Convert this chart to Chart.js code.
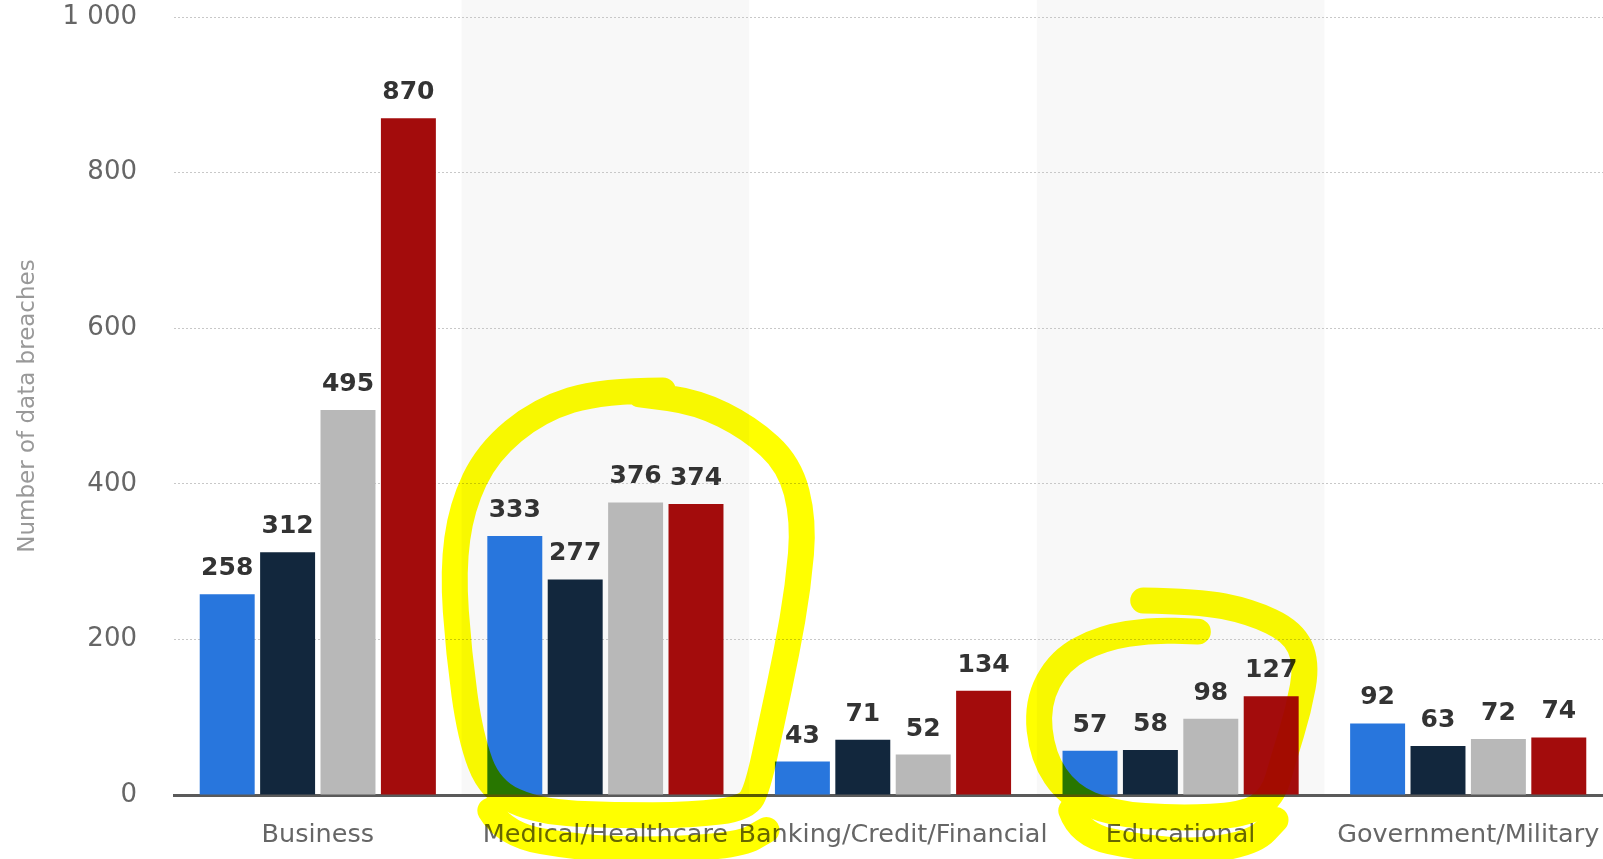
<!DOCTYPE html>
<html>
<head>
<meta charset="utf-8">
<script src="https://cdn.jsdelivr.net/npm/chart.js@4/dist/chart.umd.min.js"></script>
<style>
  html, body { margin: 0; padding: 0; background: #fff; overflow: hidden; }
  #wrap { width: 1603px; height: 859px; overflow: hidden; }
</style>
</head>
<body>
<div id="wrap"><canvas id="chart" width="1612" height="859"></canvas></div>
<script>
const categories = ['Business', 'Medical/Healthcare', 'Banking/Credit/Financial', 'Educational', 'Government/Military'];
const seriesNames = ['2014', '2015', '2016', '2017'];
const values2014 = [258, 333, 43, 57, 92];
const values2015 = [312, 277, 71, 58, 63];
const values2016 = [495, 376, 52, 98, 72];
const values2017 = [870, 374, 134, 127, 74];
const yTicks = [0, 200, 400, 600, 800, 1000];
const shadedCategories = [1, 3];

// hand-drawn highlight loops, as [category index, value] pairs
const medicalLoop = [[1.20, 520], [0.99, 520], [0.77, 495], [0.59, 440], [0.50, 370], [0.47, 289], [0.49, 183],
  [0.53, 75], [0.60, 6], [0.77, -22], [1.03, -26], [1.30, -26], [1.49, -17], [1.53, 10], [1.58, 96], [1.63, 183],
  [1.67, 267], [1.69, 353], [1.64, 425], [1.50, 472], [1.32, 505], [1.12, 515]];
const medicalLoopBottom = [[0.60, -20], [0.65, -51], [0.91, -68], [1.19, -71], [1.47, -64], [1.56, -45]];
const eduLoop = [[2.87, 250], [3.06, 249], [3.24, 236], [3.39, 210], [3.44, 170], [3.41, 109], [3.36, 49],
  [3.32, -3], [3.22, -26], [2.99, -30], [2.76, -24], [2.61, 0], [2.52, 49], [2.50, 118], [2.58, 174],
  [2.73, 202], [2.90, 212], [3.06, 210]];
const eduLoopBottom = [[2.62, -20], [2.65, -51], [2.86, -68], [3.07, -73], [3.26, -60], [3.33, -32]];

const colors = ['#2876dd', '#12273d', '#b8b8b8', '#a30c0c'];
const seriesValues = [values2014, values2015, values2016, values2017];

const bandPlugin = {
  id: 'bands',
  beforeDraw(chart) {
    const { ctx, chartArea, scales: { x } } = chart;
    const w = x.getPixelForValue(1) - x.getPixelForValue(0);
    ctx.save();
    ctx.fillStyle = '#f8f8f8';
    shadedCategories.forEach(i => {
      const c = x.getPixelForValue(i);
      ctx.fillRect(c - w / 2, 0, w, chartArea.bottom);
    });
    ctx.restore();
  }
};

const valueLabels = {
  id: 'valueLabels',
  afterDatasetsDraw(chart) {
    const { ctx } = chart;
    ctx.save();
    ctx.font = 'bold 25px "DejaVu Sans"';
    ctx.fillStyle = '#333';
    ctx.textAlign = 'center';
    ctx.textBaseline = 'alphabetic';
    chart.data.datasets.forEach((ds, di) => {
      chart.getDatasetMeta(di).data.forEach((bar, i) => {
        ctx.fillText(ds.data[i], bar.x, bar.y - 19);
      });
    });
    ctx.restore();
  }
};

function strokeSmooth(ctx, pts) {
  ctx.beginPath();
  ctx.moveTo(pts[0][0], pts[0][1]);
  for (let i = 1; i < pts.length - 1; i++) {
    const mx = (pts[i][0] + pts[i + 1][0]) / 2;
    const my = (pts[i][1] + pts[i + 1][1]) / 2;
    ctx.quadraticCurveTo(pts[i][0], pts[i][1], mx, my);
  }
  const last = pts[pts.length - 1];
  ctx.lineTo(last[0], last[1]);
  ctx.stroke();
}

const highlightLoops = {
  id: 'highlightLoops',
  afterDraw(chart) {
    const { ctx, scales: { x, y } } = chart;
    const toPx = p => [x.getPixelForValue(p[0]), y.getPixelForValue(p[1])];
    ctx.save();
    ctx.globalCompositeOperation = 'multiply';
    ctx.strokeStyle = '#ffff00';
    ctx.lineWidth = 26;
    ctx.lineJoin = 'round';
    ctx.lineCap = 'round';
    [medicalLoop, medicalLoopBottom, eduLoop, eduLoopBottom].forEach(loop => {
      strokeSmooth(ctx, loop.map(toPx));
    });
    ctx.restore();
  }
};

new Chart(document.getElementById('chart'), {
  type: 'bar',
  data: {
    labels: categories,
    datasets: seriesNames.map((name, i) => ({
      label: name,
      data: seriesValues[i],
      backgroundColor: colors[i],
      borderWidth: 0,
      categoryPercentage: 0.84,
      barPercentage: 0.91
    }))
  },
  options: {
    responsive: false,
    animation: false,
    devicePixelRatio: 1,
    layout: { padding: { top: 17, left: 0, right: 0, bottom: 0 } },
    plugins: { legend: { display: false }, tooltip: { enabled: false } },
    scales: {
      x: {
        grid: { display: false, drawTicks: false },
        border: { display: true, color: '#5a5a5a', width: 3 },
        ticks: {
          color: '#666',
          font: { family: 'DejaVu Sans', size: 25.5 },
          padding: 25,
          maxRotation: 0,
          minRotation: 0,
          autoSkip: false
        },
        afterFit: s => {
          s.height = 64;
          s.paddingLeft = 0;
          s.paddingRight = 0;
        }
      },
      y: {
        min: 0,
        max: 1000,
        grid: { color: '#c8c8c8', lineWidth: 1, drawTicks: false },
        border: { display: false, dash: [2, 2] },
        afterBuildTicks: s => { s.ticks = yTicks.map(v => ({ value: v })); },
        ticks: {
          color: '#666',
          font: { family: 'DejaVu Sans', size: 26 },
          padding: 37,
          callback: v => String(v).replace(/\B(?=(\d{3})+(?!\d))/g, ' ')
        },
        title: {
          display: true,
          text: 'Number of data breaches',
          color: '#999',
          font: { family: 'DejaVu Sans', size: 23 },
          padding: 14
        },
        afterFit: s => {
          s.width = 174;
          s.paddingTop = 15;
          s.paddingBottom = 15;
        }
      }
    }
  },
  plugins: [bandPlugin, valueLabels, highlightLoops]
});
</script>
</body>
</html>
